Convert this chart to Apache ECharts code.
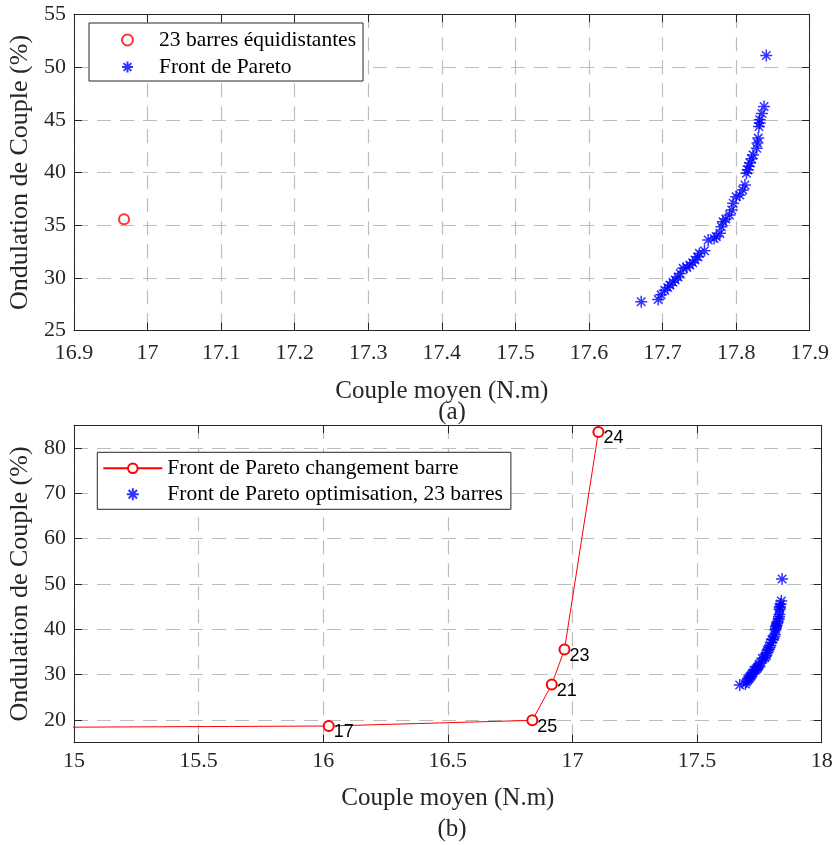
<!DOCTYPE html>
<html><head><meta charset="utf-8">
<script src="https://cdn.jsdelivr.net/npm/echarts@6/dist/echarts.min.js"></script>
<style>html,body{margin:0;padding:0;background:#fff}#c{width:834px;height:845px}</style>
</head><body><div id="c"></div>
<script>
// ---- data ----
const paretoX = [17.671,17.694,17.698,17.703,17.707,17.710,17.714,17.717,17.721,17.724,17.728,17.733,17.737,17.741,17.744,17.748,17.750,17.757,17.762,17.770,17.773,17.778,17.780,17.782,17.786,17.791,17.794,17.796,17.800,17.805,17.809,17.812,17.814,17.816,17.817,17.819,17.821,17.823,17.828,17.829,17.830,17.831,17.832,17.832,17.835,17.838,17.841];
const paretoY = [27.74,27.96,28.40,28.84,29.10,29.32,29.60,29.80,30.10,30.43,30.91,31.00,31.22,31.45,31.70,32.00,32.33,32.58,33.60,33.75,33.92,34.23,34.86,35.34,35.60,35.97,36.45,37.08,37.70,37.87,38.35,38.82,39.93,40.25,40.60,40.90,41.30,41.67,42.30,42.80,43.26,44.36,44.70,45.00,45.60,46.26,51.10];
const equiX = [16.968];
const equiY = [35.57];
const changeX = [14.5, 16.022, 16.839, 16.917, 16.968, 17.104];
const changeY = [18.30, 18.68, 19.93, 27.86, 35.57, 83.52];
const barCounts = ['', '17', '25', '21', '23', '24'];
const seriesNames = ['23 barres équidistantes', 'Front de Pareto', 'Front de Pareto changement barre', 'Front de Pareto optimisation, 23 barres'];
const xTitle = 'Couple moyen (N.m)';
const yTitle = 'Ondulation de Couple (%)';
const panelLabels = ['(a)', '(b)'];

// ---- styling ----
const SERIF = '"Liberation Serif","Times New Roman",serif';
const SANS = '"Liberation Sans",Arial,sans-serif';
const AX = '#262626';
const star = 'path://M10,0L10,20M0,10L20,10M2.93,2.93L17.07,17.07M2.93,17.07L17.07,2.93';
const zip = (xs, ys) => xs.map((x, i) => [x, ys[i]]);

function mainX(grid, min, max, interval, margin, nameGap) {
  return {
    gridIndex: grid, type: 'value', min, max, interval, position: 'bottom',
    name: xTitle, nameLocation: 'middle', nameGap,
    nameTextStyle: {fontFamily: SERIF, fontSize: 25, color: AX},
    axisLine: {show: true, onZero: false, lineStyle: {color: AX, width: 1}},
    axisTick: {show: true, inside: true, length: 8, lineStyle: {color: AX}},
    axisLabel: {show: true, margin, fontFamily: SERIF, fontSize: 22, color: AX},
    splitLine: {show: true, lineStyle: {color: '#bdbdbd', width: 1.2, type: [14, 9]}}
  };
}
function mirrorX(grid, min, max, interval) {
  return {
    gridIndex: grid, type: 'value', min, max, interval, position: 'top',
    axisLine: {show: true, onZero: false, lineStyle: {color: AX, width: 1}},
    axisTick: {show: true, inside: true, length: 8, lineStyle: {color: AX}},
    axisLabel: {show: false}, splitLine: {show: false}
  };
}
function mainY(grid, ext) {
  return Object.assign({
    gridIndex: grid, type: 'value', position: 'left',
    name: yTitle, nameLocation: 'middle', nameGap: 38,
    nameTextStyle: {fontFamily: SERIF, fontSize: 26, color: AX},
    axisLine: {show: true, onZero: false, lineStyle: {color: AX, width: 1}},
    axisTick: {show: true, inside: true, length: 8, lineStyle: {color: AX}},
    axisLabel: {show: true, margin: 8, fontFamily: SERIF, fontSize: 22, color: AX, showMinLabel: ext.showEdge, showMaxLabel: ext.showEdge},
    splitLine: {show: true, lineStyle: {color: '#bdbdbd', width: 1.2, type: [14, 9]}}
  }, ext.scale);
}
function mirrorY(grid, scale) {
  return Object.assign({
    gridIndex: grid, type: 'value', position: 'right',
    axisLine: {show: true, onZero: false, lineStyle: {color: AX, width: 1}},
    axisTick: {show: true, inside: true, length: 8, lineStyle: {color: AX}},
    axisLabel: {show: false}, splitLine: {show: false}
  }, scale);
}

const topYScale = {min: 25, max: 55, interval: 5};
const botYScale = {min: 15, max: 85, splitNumber: 7};

const option = {
  animation: false,
  backgroundColor: '#fff',
  grid: [
    {left: 74, top: 14.3, width: 735.7, height: 316.4, containLabel: false, outerBoundsMode: 'none'},
    {left: 74, top: 425.3, width: 747.7, height: 317.4, containLabel: false, outerBoundsMode: 'none'}
  ],
  xAxis: [
    mainX(0, 16.9, 17.9, 0.1, 12, 48),
    mirrorX(0, 16.9, 17.9, 0.1),
    mainX(1, 15, 18, 0.5, 8, 43),
    mirrorX(1, 15, 18, 0.5)
  ],
  yAxis: [
    mainY(0, {scale: topYScale, showEdge: true}),
    mirrorY(0, topYScale),
    mainY(1, {scale: botYScale, showEdge: false}),
    mirrorY(1, botYScale)
  ],
  legend: [
    {
      orient: 'vertical', left: 89, top: 23, padding: [6, 7, 3, 32],
      itemWidth: 55, itemHeight: 11, itemGap: 5,
      borderColor: AX, borderWidth: 1, backgroundColor: '#fff', borderRadius: 0,
      selectedMode: false,
      data: [seriesNames[0], seriesNames[1]],
      textStyle: {fontFamily: SERIF, fontSize: 21.5, lineHeight: 22, color: '#000', padding: [0, 0, 0, -1]}
    },
    {
      orient: 'vertical', left: 97.3, top: 452.3, padding: [5, 8, 4, 5],
      itemWidth: 59, itemHeight: 12, itemGap: 4,
      borderColor: AX, borderWidth: 1, backgroundColor: '#fff', borderRadius: 0,
      selectedMode: false,
      data: [seriesNames[2], seriesNames[3]],
      textStyle: {fontFamily: SERIF, fontSize: 21.5, lineHeight: 22, color: '#000'}
    }
  ],
  series: [
    {
      name: seriesNames[0], type: 'scatter', xAxisIndex: 0, yAxisIndex: 0,
      symbol: 'emptyCircle', symbolSize: 10,
      itemStyle: {color: '#ff0000', borderColor: '#ff0000', borderWidth: 1.2},
      data: zip(equiX, equiY)
    },
    {
      name: seriesNames[1], type: 'scatter', xAxisIndex: 0, yAxisIndex: 0,
      symbol: star, symbolSize: 12,
      itemStyle: {color: '#0000ff', borderColor: '#0000ff', borderWidth: 1.5},
      data: zip(paretoX, paretoY)
    },
    {
      name: seriesNames[2], type: 'line', xAxisIndex: 2, yAxisIndex: 2,
      symbol: 'emptyCircle', symbolSize: 10, showSymbol: true, showAllSymbol: true, clip: true,
      lineStyle: {color: '#ff0000', width: 1},
      itemStyle: {color: '#ff0000', borderColor: '#ff0000', borderWidth: 1.2},
      label: {
        show: true, position: 'right', distance: 0, offset: [-1, 6.5],
        formatter: p => barCounts[p.dataIndex],
        fontFamily: SANS, fontSize: 18, color: '#000'
      },
      data: zip(changeX, changeY)
    },
    {
      name: seriesNames[3], type: 'scatter', xAxisIndex: 2, yAxisIndex: 2,
      symbol: star, symbolSize: 12,
      itemStyle: {color: '#0000ff', borderColor: '#0000ff', borderWidth: 1.5},
      data: zip(paretoX, paretoY)
    }
  ],
  graphic: [
    {type: 'text', x: 452, y: 412, style: {text: panelLabels[0], fontFamily: SERIF, fontSize: 25, fill: AX, align: 'center', verticalAlign: 'middle'}},
    {type: 'text', x: 452, y: 829, style: {text: panelLabels[1], fontFamily: SERIF, fontSize: 25, fill: AX, align: 'center', verticalAlign: 'middle'}}
  ]
};
const chart = echarts.init(document.getElementById('c'), null, {renderer: 'canvas'});
chart.setOption(option);
</script></body></html>
